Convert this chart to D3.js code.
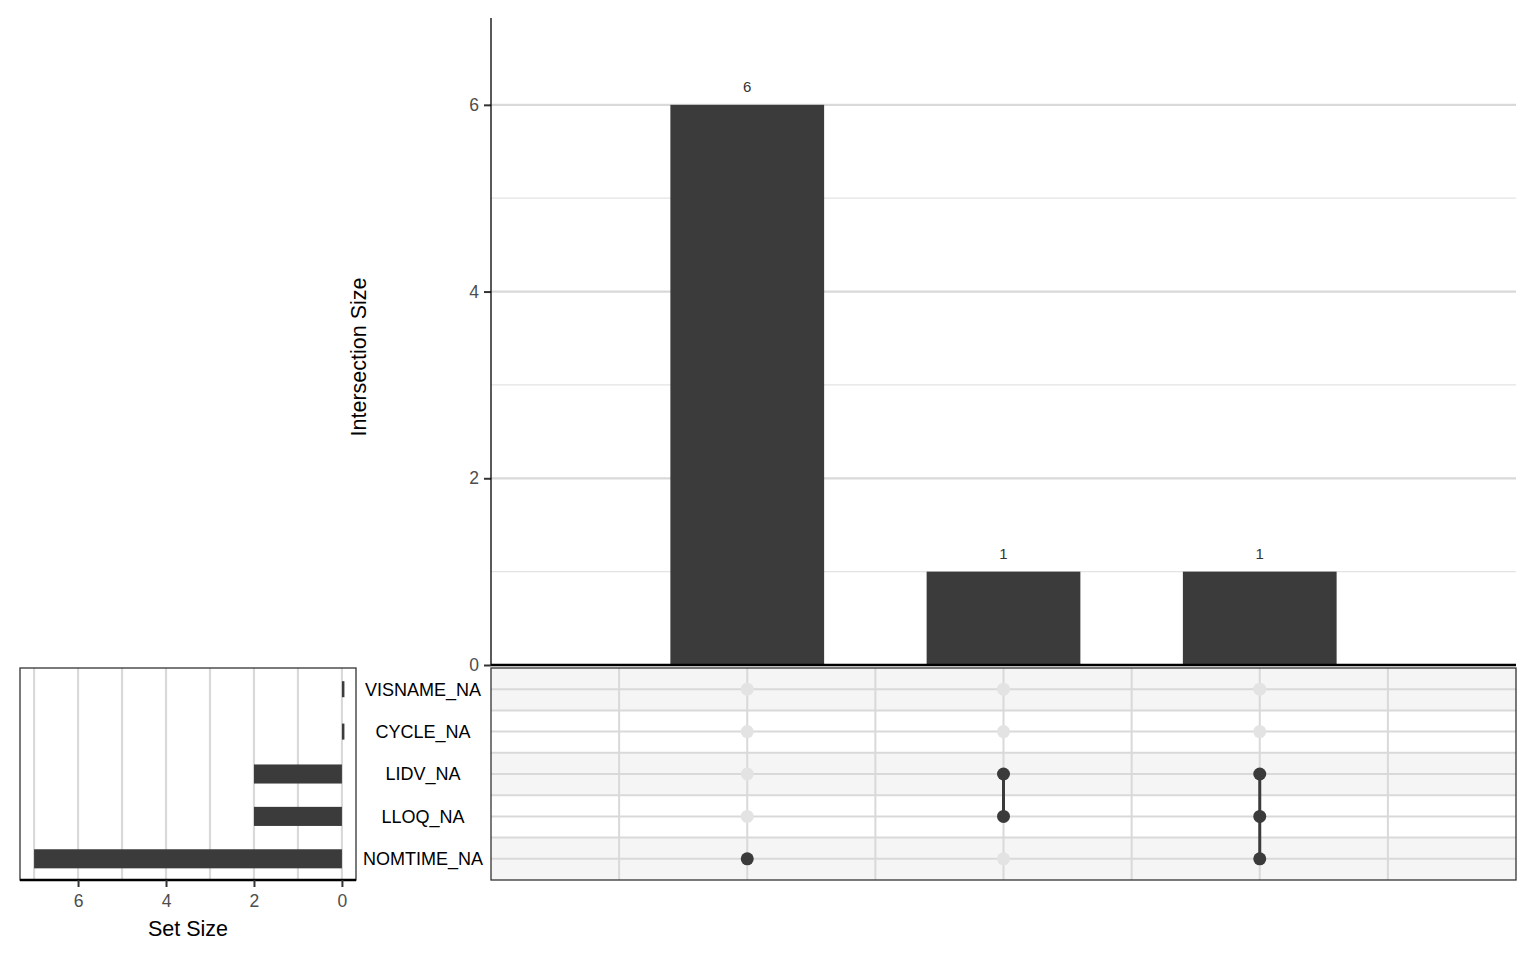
<!DOCTYPE html>
<html>
<head>
<meta charset="utf-8">
<script src="https://cdn.jsdelivr.net/npm/d3@7"></script>
<style>
  body { margin: 0; background: #fff; }
  svg { display: block; font-family: "Liberation Sans", Arial, sans-serif; }
</style>
</head>
<body>
<svg id="chart" width="1536" height="960"></svg>
<script>
// ---- data ----
const sets = ["VISNAME_NA", "CYCLE_NA", "LIDV_NA", "LLOQ_NA", "NOMTIME_NA"];
const setSizes = [0, 0, 2, 2, 7];
const intersections = [["NOMTIME_NA"], ["LIDV_NA", "LLOQ_NA"], ["LIDV_NA", "LLOQ_NA", "NOMTIME_NA"]];
const intersectionSizes = [6, 1, 1];
const yTicks = [0, 2, 4, 6];
const setTicks = [0, 2, 4, 6];

// ---- layout ----
const svg = d3.select("#chart");
const dark = "#3b3b3b";
const grid = "#d9d9d9";
const FONT = "Liberation Sans, Arial, sans-serif";

const mat = { x0: 491, x1: 1516, y0: 668, y1: 880 };
const topP = { y0: 18, y1: 665 };
const ss = { x0: 20, x1: 356 };

const x = d3.scaleLinear().domain([0, intersections.length + 1]).range([mat.x0, mat.x1]);
const y = d3.scaleLinear().domain([0, 6.93]).range([topP.y1, topP.y0]);
const row = d3.scaleBand().domain(sets).range([mat.y0, mat.y1]).padding(0);
const rowC = s => row(s) + row.bandwidth() / 2;
const xs = d3.scaleLinear().domain([7.32, -0.32]).range([ss.x0, ss.x1]);

// ---- top bar panel ----
const gTop = svg.append("g");
d3.range(1, 7, 2).forEach(v => {
  gTop.append("line").attr("x1", mat.x0).attr("x2", mat.x1)
    .attr("y1", y(v)).attr("y2", y(v)).attr("stroke", "#e3e3e3").attr("stroke-width", 1.2);
});
yTicks.forEach(v => {
  gTop.append("line").attr("x1", mat.x0).attr("x2", mat.x1)
    .attr("y1", y(v)).attr("y2", y(v)).attr("stroke", grid).attr("stroke-width", 2.2);
});
const bw = (x(1) - x(0)) * 0.6;
gTop.selectAll("rect.bar").data(intersectionSizes).join("rect")
  .attr("x", (d, i) => x(i + 1) - bw / 2)
  .attr("width", bw)
  .attr("y", d => y(d))
  .attr("height", d => y(0) - y(d))
  .attr("fill", dark);
gTop.selectAll("text.lab").data(intersectionSizes).join("text")
  .attr("x", (d, i) => x(i + 1))
  .attr("y", d => y(d) - 13)
  .attr("text-anchor", "middle")
  .attr("font-size", 15)
  .attr("fill", "#333")
  .text(d => d);
const yAxis = d3.axisLeft(y).tickValues(yTicks).tickFormat(d3.format("d")).tickSize(7).tickPadding(5);
const gy = gTop.append("g").attr("transform", `translate(${mat.x0},0)`).call(yAxis)
  .attr("font-size", 17.5).attr("font-family", FONT);
gy.select(".domain").remove();
gy.selectAll(".tick line").attr("stroke", "#333").attr("stroke-width", 2);
gy.selectAll(".tick text").attr("fill", "#4d4d4d");
gTop.append("line").attr("x1", mat.x0).attr("x2", mat.x0).attr("y1", topP.y0).attr("y2", topP.y1)
  .attr("stroke", "#000").attr("stroke-width", 1.3);
gTop.append("line").attr("x1", mat.x0).attr("x2", mat.x1).attr("y1", y(0)).attr("y2", y(0))
  .attr("stroke", "#000").attr("stroke-width", 2.6);
gTop.append("text")
  .attr("transform", `translate(366,357) rotate(-90)`)
  .attr("text-anchor", "middle").attr("font-size", 21.5).attr("fill", "#000")
  .text("Intersection Size");

// ---- matrix panel ----
const gM = svg.append("g");
gM.append("rect").attr("x", mat.x0).attr("y", mat.y0).attr("width", mat.x1 - mat.x0)
  .attr("height", mat.y1 - mat.y0).attr("fill", "#fff");
gM.selectAll("rect.shade").data(sets.filter((s, i) => i % 2 === 0)).join("rect")
  .attr("x", mat.x0).attr("width", mat.x1 - mat.x0)
  .attr("y", d => row(d)).attr("height", row.bandwidth())
  .attr("fill", "#f5f5f5");
sets.forEach((s, i) => {
  gM.append("line").attr("x1", mat.x0).attr("x2", mat.x1)
    .attr("y1", rowC(s)).attr("y2", rowC(s)).attr("stroke", grid).attr("stroke-width", 2);
  if (i > 0) {
    gM.append("line").attr("x1", mat.x0).attr("x2", mat.x1)
      .attr("y1", row(s)).attr("y2", row(s)).attr("stroke", grid).attr("stroke-width", 2);
  }
});
d3.range(0.5, intersections.length + 1, 0.5).forEach(v => {
  gM.append("line").attr("x1", x(v)).attr("x2", x(v)).attr("y1", mat.y0).attr("y2", mat.y1)
    .attr("stroke", grid).attr("stroke-width", 2);
});
intersections.forEach((inter, i) => {
  sets.forEach(s => {
    if (!inter.includes(s)) {
      gM.append("circle").attr("cx", x(i + 1)).attr("cy", rowC(s)).attr("r", 6.5)
        .attr("fill", "#e3e3e3");
    }
  });
  const ys = inter.map(rowC);
  if (ys.length > 1) {
    gM.append("line").attr("x1", x(i + 1)).attr("x2", x(i + 1))
      .attr("y1", d3.min(ys)).attr("y2", d3.max(ys)).attr("stroke", dark).attr("stroke-width", 3);
  }
  inter.forEach(s => {
    gM.append("circle").attr("cx", x(i + 1)).attr("cy", rowC(s)).attr("r", 6.5).attr("fill", dark);
  });
});
gM.append("rect").attr("x", mat.x0).attr("y", mat.y0).attr("width", mat.x1 - mat.x0)
  .attr("height", mat.y1 - mat.y0).attr("fill", "none").attr("stroke", "#333").attr("stroke-width", 1.3);
gM.selectAll("text.rl").data(sets).join("text")
  .attr("x", 423).attr("y", d => rowC(d)).attr("dy", "0.36em")
  .attr("text-anchor", "middle").attr("font-size", 18).attr("fill", "#000")
  .text(d => d);

// ---- set size panel ----
const gS = svg.append("g");
d3.range(0, 8).forEach(v => {
  gS.append("line").attr("x1", xs(v)).attr("x2", xs(v)).attr("y1", mat.y0).attr("y2", mat.y1)
    .attr("stroke", grid).attr("stroke-width", 2.2);
});
const bh = row.bandwidth() * 0.45;
gS.selectAll("rect.sb").data(setSizes).join("rect")
  .attr("x", d => xs(d))
  .attr("width", d => Math.max(xs(0) - xs(d), 2.5))
  .attr("y", (d, i) => rowC(sets[i]) - (d === 0 ? bh * 0.42 : bh / 2))
  .attr("height", d => d === 0 ? bh * 0.84 : bh)
  .attr("fill", dark);
gS.append("rect").attr("x", ss.x0).attr("y", mat.y0).attr("width", ss.x1 - ss.x0)
  .attr("height", mat.y1 - mat.y0).attr("fill", "none").attr("stroke", "#333").attr("stroke-width", 1.3);
gS.append("line").attr("x1", ss.x0).attr("x2", ss.x1).attr("y1", mat.y1).attr("y2", mat.y1)
  .attr("stroke", "#000").attr("stroke-width", 2.4);
const xAxis = d3.axisBottom(xs).tickValues(setTicks).tickFormat(d3.format("d")).tickSize(7).tickPadding(8);
const gx = gS.append("g").attr("transform", `translate(0,${mat.y1})`).call(xAxis)
  .attr("font-size", 17.5).attr("font-family", FONT);
gx.select(".domain").remove();
gx.selectAll(".tick line").attr("stroke", "#333").attr("stroke-width", 2);
gx.selectAll(".tick text").attr("fill", "#4d4d4d");
gS.append("text").attr("x", (ss.x0 + ss.x1) / 2).attr("y", 936)
  .attr("text-anchor", "middle").attr("font-size", 21.5).attr("fill", "#000").text("Set Size");
</script>
</body>
</html>
